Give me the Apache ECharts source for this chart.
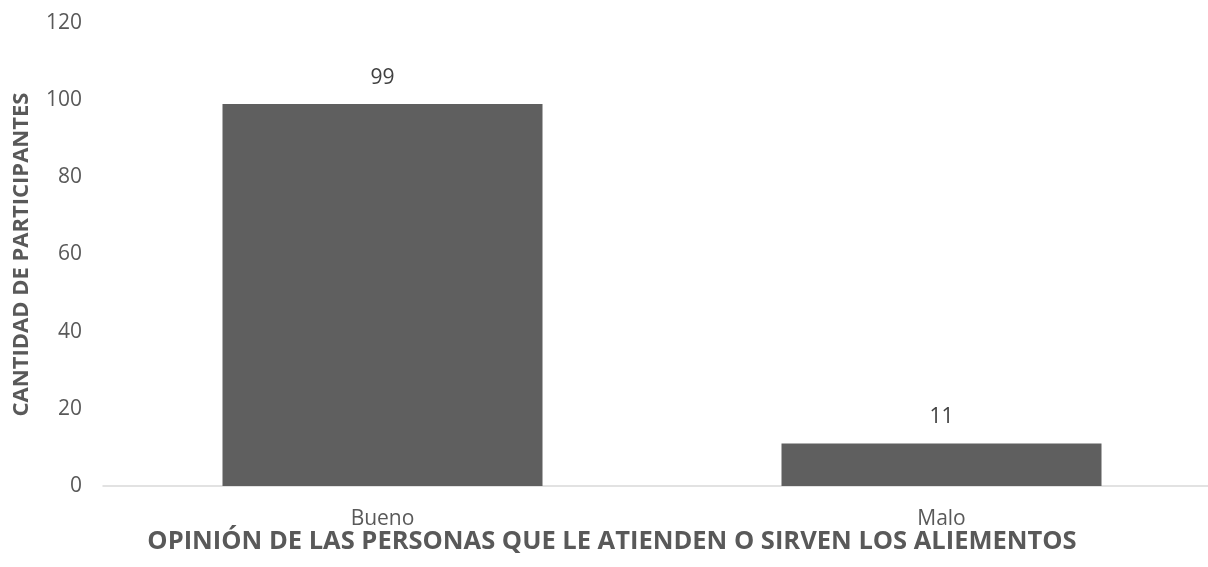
<!DOCTYPE html>
<html><head><meta charset="utf-8">
<script src="https://cdn.jsdelivr.net/npm/echarts@6/dist/echarts.min.js"></script>
<style>html,body{margin:0;padding:0;background:#fff}#c{width:1208px;height:567px}</style>
</head><body><div id="c"></div>
<script>
const categories = ["Bueno", "Malo"];
const values = [99, 11];
const yTicks = [0, 20, 40, 60, 80, 100, 120];
const yTitle = "CANTIDAD DE PARTICIPANTES";
const xTitle = "OPINIÓN DE LAS PERSONAS QUE LE ATIENDEN O SIRVEN LOS ALIEMENTOS";

const font = "'Open Sans', 'Liberation Sans', sans-serif";
const chart = echarts.init(document.getElementById('c'));
chart.setOption({
  animation: false,
  textStyle: { fontFamily: font },
  grid: { left: 103, top: 23, right: -13, bottom: 81, containLabel: false, outerBoundsMode: 'none' },
  xAxis: {
    type: 'category', data: categories,
    axisLine: { lineStyle: { color: '#d9d9d9', width: 1.5 } },
    axisTick: { show: false },
    axisLabel: { color: '#595959', fontSize: 21, margin: 23, fontFamily: font }
  },
  yAxis: {
    type: 'value', min: 0, max: yTicks[yTicks.length - 1], interval: 20,
    splitLine: { show: false },
    axisLine: { show: false }, axisTick: { show: false },
    axisLabel: { color: '#595959', fontSize: 21, margin: 21, fontFamily: font },
    name: yTitle, nameLocation: 'middle', nameGap: 81, nameRotate: 90,
    nameTextStyle: { color: '#595959', fontSize: 22, fontWeight: 'bold', fontFamily: font, verticalAlign: 'middle' }
  },
  graphic: [{
    type: 'text', x: 612, y: 542, z: 10,
    style: { text: xTitle, fill: '#595959', fontSize: 25.5, fontWeight: 'bold', fontFamily: font, textAlign: 'center', textVerticalAlign: 'middle' }
  }],
  series: [{
    type: 'bar', data: values, barWidth: 320,
    itemStyle: { color: '#5f5f5f' },
    label: { show: true, position: 'top', distance: 16, color: '#404040', fontSize: 21, fontFamily: font }
  }]
});
</script></body></html>
